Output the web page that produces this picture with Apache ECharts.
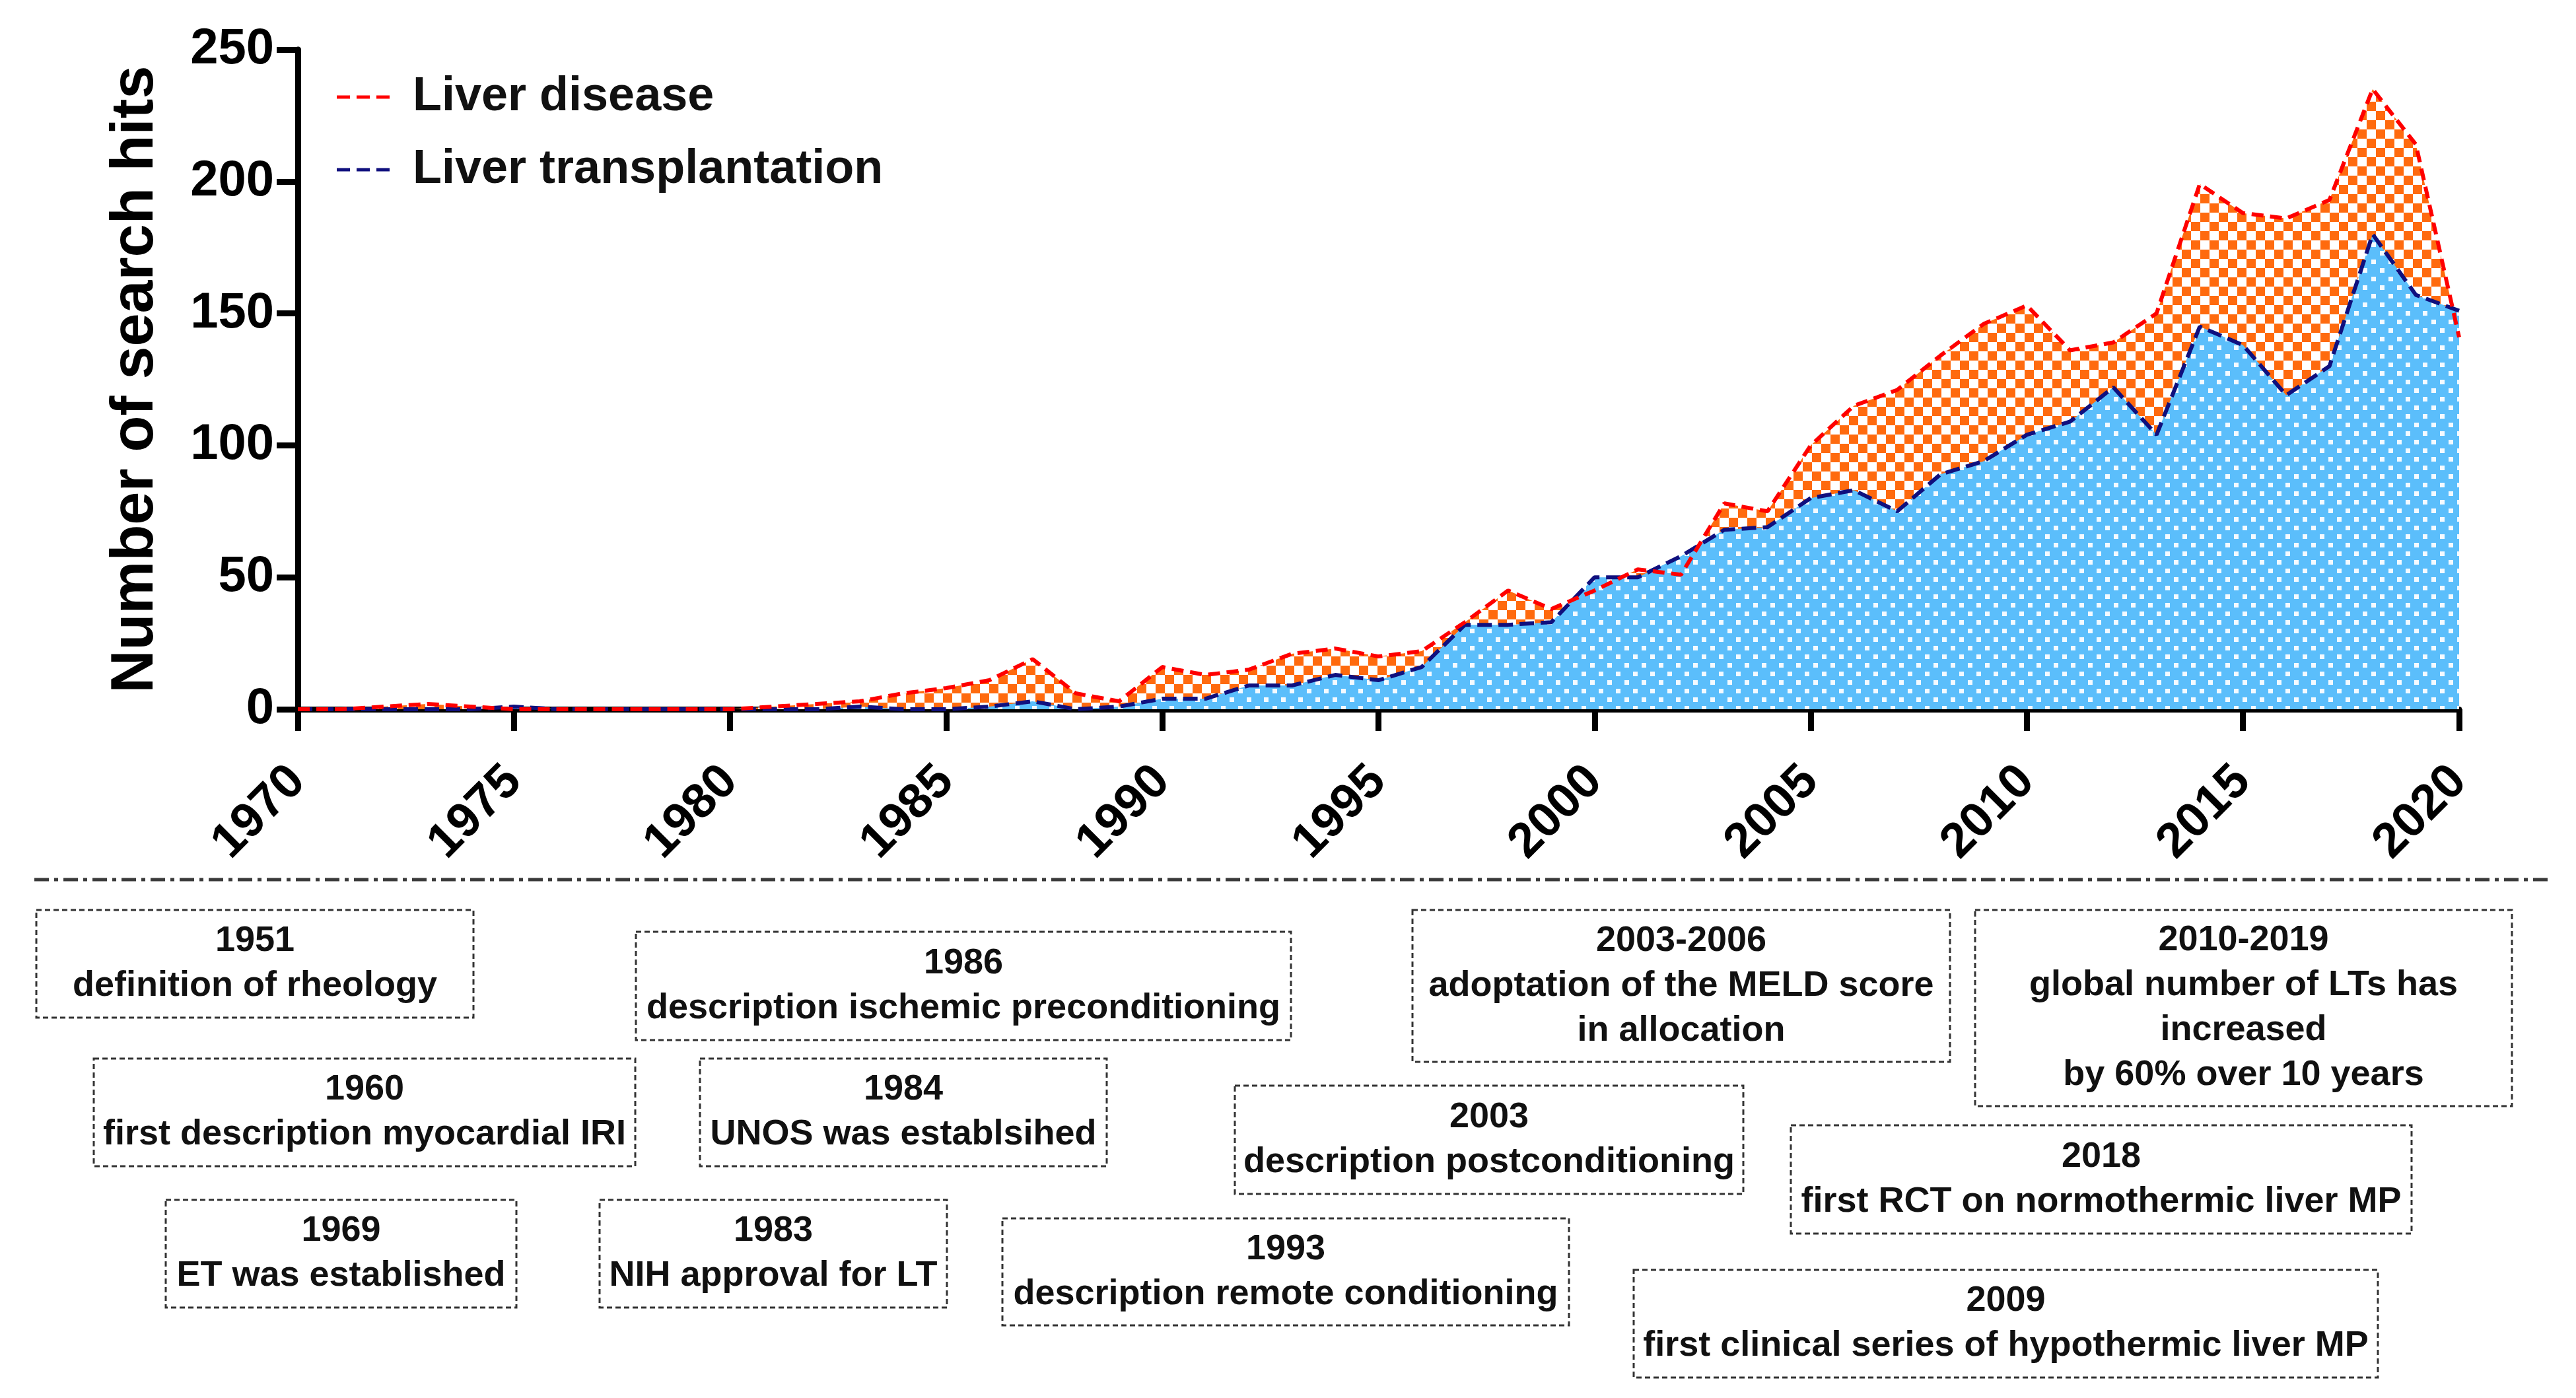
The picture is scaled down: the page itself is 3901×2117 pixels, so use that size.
<!DOCTYPE html>
<html>
<head>
<meta charset="utf-8">
<script src="https://cdn.jsdelivr.net/npm/echarts@6/dist/echarts.min.js"></script>
<style>
html,body{margin:0;padding:0;background:#fff;}
#chart{width:3901px;height:2117px;}
</style>
</head>
<body>
<div id="chart"></div>
<script>
// ---------- data ----------
const years = [1970,1971,1972,1973,1974,1975,1976,1977,1978,1979,
  1980,1981,1982,1983,1984,1985,1986,1987,1988,1989,
  1990,1991,1992,1993,1994,1995,1996,1997,1998,1999,
  2000,2001,2002,2003,2004,2005,2006,2007,2008,2009,
  2010,2011,2012,2013,2014,2015,2016,2017,2018,2019,2020];
const liverDisease = [0,0,1,2,1,0,0,0,0,0,
  0,1,2,3,6,8,11,19,6,3,
  16,13,15,21,23,20,22,33,45,38,
  45,53,51,78,75,100,115,121,134,146,
  153,136,139,150,199,188,186,193,235,214,141];
const liverTransplantation = [0,0,0,0,0,1,0,0,0,0,
  0,0,0,1,0,0,1,3,0,1,
  4,4,9,9,13,11,16,32,32,33,
  50,50,58,68,69,80,83,75,89,94,
  104,109,122,104,145,138,119,130,180,157,151];
const seriesNames = ['Liver disease','Liver transplantation'];
const yTicks = [0,50,100,150,200,250];
const xTicks = [1970,1975,1980,1985,1990,1995,2000,2005,2010,2015,2020];
const yAxisTitle = 'Number of search hits';
const eventLabels = [
  '1951\ndefinition of rheology',
  '1986\ndescription ischemic preconditioning',
  '2003-2006\nadoptation of the MELD score\nin allocation',
  '2010-2019\nglobal number of LTs has\nincreased\nby 60% over 10 years',
  '1960\nfirst description myocardial IRI',
  '1984\nUNOS was establsihed',
  '2003\ndescription postconditioning',
  '2018\nfirst RCT on normothermic liver MP',
  '1969\nET was established',
  '1983\nNIH approval for LT',
  '1993\ndescription remote conditioning',
  '2009\nfirst clinical series of hypothermic liver MP'
];

// ---------- layout (positions only) ----------
const boxRects = [
  [55,1378,717,1541],
  [963,1411,1955,1575],
  [2139,1378,2953,1608],
  [2991,1378,3804,1675],
  [142,1603,962,1766],
  [1060,1603,1676,1766],
  [1870,1644,2640,1808],
  [2712,1704,3652,1868],
  [251,1817,782,1980],
  [908,1817,1434,1980],
  [1518,1845,2376,2007],
  [2474,1923,3601,2086]
];

const FONT = '"Liberation Sans", Arial, Helvetica, sans-serif';

function makeChecker(){
  const c = document.createElement('canvas');
  c.width = 28; c.height = 28;
  const g = c.getContext('2d');
  g.fillStyle = '#FF6A0E'; g.fillRect(0,0,28,28);
  g.fillStyle = '#FFFFFF';
  g.fillRect(0,0,14,14); g.fillRect(14,14,14,14);
  return c;
}
function makeDots(){
  const c = document.createElement('canvas');
  c.width = 26; c.height = 26;
  const g = c.getContext('2d');
  g.fillStyle = '#5BBEFB'; g.fillRect(0,0,26,26);
  g.fillStyle = '#F4FAFF';
  g.fillRect(3,3,7,7); g.fillRect(16,16,7,7);
  return c;
}

const pairs = arr => years.map((y,i)=>[y, arr[i]]);

const graphics = [];
graphics.push({
  type:'line', silent:true,
  shape:{x1:52,y1:1332,x2:3860,y2:1332},
  style:{stroke:'#3a3a3a', lineWidth:5, lineDash:[22,8,6,8]}
});
boxRects.forEach((r,i)=>{
  graphics.push({
    type:'rect', silent:true,
    shape:{x:r[0], y:r[1], width:r[2]-r[0], height:r[3]-r[1]},
    style:{fill:'none', stroke:'#333', lineWidth:3, lineDash:[8,5]}
  });
  graphics.push({
    type:'text', silent:true,
    x:(r[0]+r[2])/2, y:(r[1]+r[3])/2,
    style:{
      text:eventLabels[i],
      fontSize:54, fontWeight:'bold', fontFamily:FONT,
      fill:'#111',
      textAlign:'center', align:'center',
      textVerticalAlign:'middle', verticalAlign:'middle',
      lineHeight:68
    }
  });
});

const dashIcon = 'path://M0,0h20v5h-20zM30,0h20v5h-20zM60,0h20v5h-20z';

const chart = echarts.init(document.getElementById('chart'), null, {renderer:'canvas'});
chart.setOption({
  backgroundColor:'#fff',
  animation:false,
  grid:{left:451, right:177, top:75, bottom:1043, outerBoundsMode:'none', containLabel:false},
  legend:{
    orient:'vertical', left:505, top:102,
    itemWidth:80, itemHeight:5, itemGap:30,
    selectedMode:false,
    textStyle:{fontSize:72, fontWeight:'bold', fontFamily:FONT, color:'#111', lineHeight:80, padding:[0,0,0,30]},
    data:[
      {name:seriesNames[0], icon:dashIcon, itemStyle:{color:'#FF0000'}},
      {name:seriesNames[1], icon:dashIcon, itemStyle:{color:'#10107E'}}
    ]
  },
  xAxis:{
    type:'value', min:1970, max:2020, interval:5,
    axisLine:{show:true, onZero:false, lineStyle:{color:'#000', width:9}},
    axisTick:{show:true, inside:false, length:33, lineStyle:{color:'#000', width:9}},
    splitLine:{show:false},
    axisLabel:{
      rotate:45, margin:98, fontSize:74, fontWeight:'bold', fontFamily:FONT, color:'#000',
      formatter:v => xTicks.indexOf(v) >= 0 ? String(v) : ''
    }
  },
  yAxis:{
    type:'value', min:0, max:250, interval:50,
    name:yAxisTitle, nameLocation:'middle', nameGap:200, nameRotate:90,
    nameTextStyle:{fontSize:90, fontWeight:'bold', fontFamily:FONT, color:'#000'},
    axisLine:{show:true, onZero:false, lineStyle:{color:'#000', width:9}},
    axisTick:{show:true, inside:false, length:32, lineStyle:{color:'#000', width:9}},
    splitLine:{show:false},
    axisLabel:{
      margin:36, fontSize:76, fontWeight:'bold', fontFamily:FONT, color:'#000',
      formatter:v => yTicks.indexOf(v) >= 0 ? String(v) : ''
    }
  },
  series:[
    {
      name:seriesNames[0], type:'line', z:1, data:pairs(liverDisease),
      showSymbol:false, symbol:'none', silent:true,
      itemStyle:{color:'#FF0000'},
      lineStyle:{width:0, opacity:0},
      areaStyle:{color:{image:makeChecker(), repeat:'repeat'}, opacity:1}
    },
    {
      name:seriesNames[1], type:'line', z:2, data:pairs(liverTransplantation),
      showSymbol:false, symbol:'none', silent:true,
      itemStyle:{color:'#10107E'},
      lineStyle:{width:0, opacity:0},
      areaStyle:{color:{image:makeDots(), repeat:'repeat'}, opacity:1}
    },
    {
      name:seriesNames[1], type:'line', z:3, data:pairs(liverTransplantation),
      showSymbol:false, symbol:'none', silent:true,
      itemStyle:{color:'#10107E'},
      lineStyle:{width:6, color:'#10107E', type:[22,10]}
    },
    {
      name:seriesNames[0], type:'line', z:4, data:pairs(liverDisease),
      showSymbol:false, symbol:'none', silent:true,
      itemStyle:{color:'#FF0000'},
      lineStyle:{width:6, color:'#FF0000', type:[18,10]}
    }
  ],
  graphic:graphics
});
</script>
</body>
</html>
